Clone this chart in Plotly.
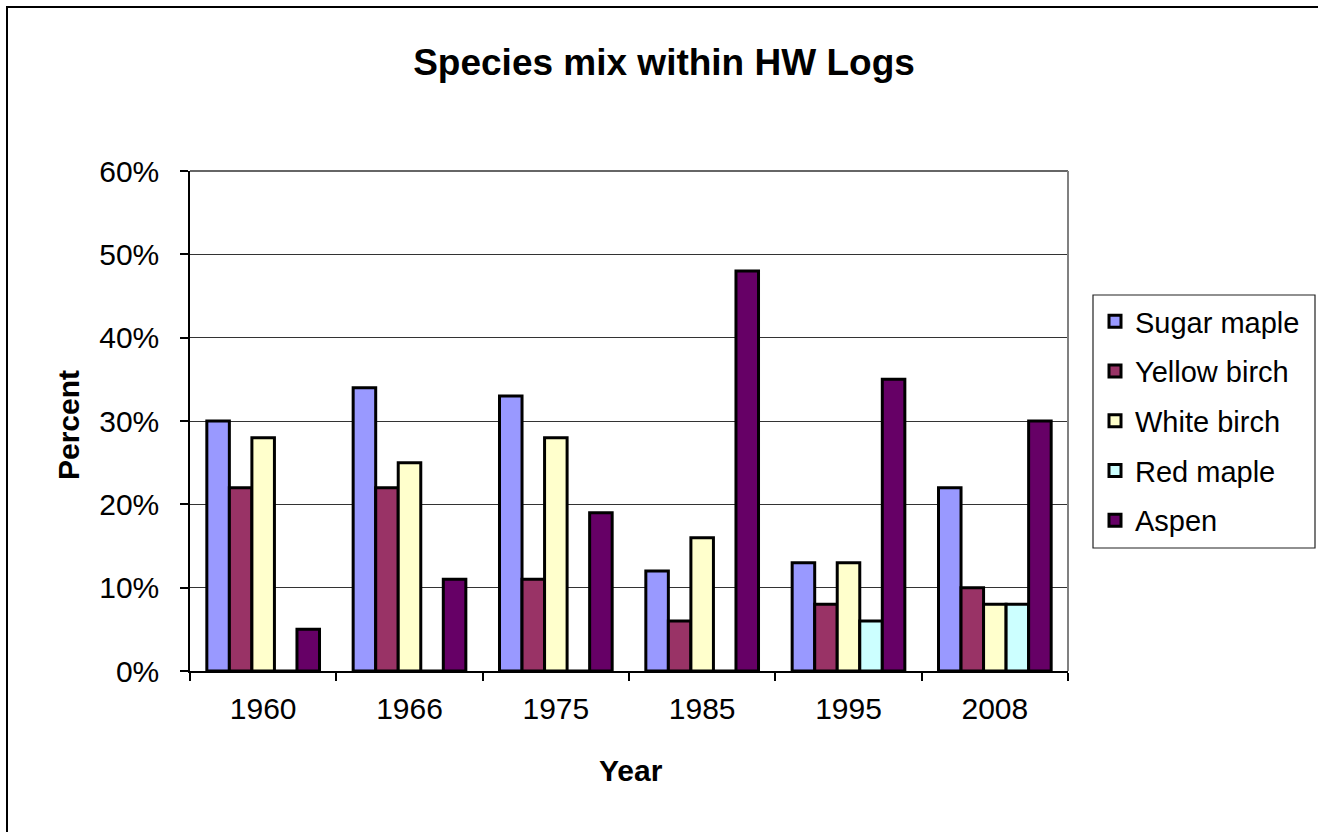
import plotly.graph_objects as go

years = ["1960", "1966", "1975", "1985", "1995", "2008"]
sugar_maple = [0.30, 0.34, 0.33, 0.12, 0.13, 0.22]
yellow_birch = [0.22, 0.22, 0.11, 0.06, 0.08, 0.10]
white_birch = [0.28, 0.25, 0.28, 0.16, 0.13, 0.08]
red_maple = [0.0, 0.0, 0.0, 0.0, 0.06, 0.08]
aspen = [0.05, 0.11, 0.19, 0.48, 0.35, 0.30]

series_names = ["Sugar maple", "Yellow birch", "White birch", "Red maple", "Aspen"]
series_values = [sugar_maple, yellow_birch, white_birch, red_maple, aspen]
colors = ["#9999FF", "#993366", "#FFFFCC", "#CCFFFF", "#660066"]

FONT = "Liberation Sans, Arial, sans-serif"

fig = go.Figure()
for i, (name, vals, col) in enumerate(zip(series_names, series_values, colors)):
    fig.add_trace(go.Bar(
        name=name, x=years, y=vals,
        marker=dict(color=col, line=dict(color="black", width=3)),
        legendgroup=f"g{i}",
    ))

L, R, T, B = 190, 1068, 171, 671
W, H = 1318, 832
pw, ph = R - L, B - T

def px_x(p):
    return (p - L) / pw

def px_y(p):
    return (B - p) / ph

fig.update_layout(
    width=W, height=H,
    margin=dict(l=L, r=W - R, t=T, b=H - B, autoexpand=False),
    paper_bgcolor="white", plot_bgcolor="white",
    font=dict(family=FONT, color="black", size=29),
    barmode="group", bargap=0.23, bargroupgap=0,
    title=dict(text="<b>Species mix within HW Logs</b>", font=dict(size=37, family=FONT, color="black"),
               x=664 / W, xanchor="center", y=1 - 62 / H, yanchor="middle"),
    showlegend=True,
    legend=dict(
        x=px_x(1095), xanchor="left", y=px_y(296), yanchor="top",
        bgcolor="rgba(0,0,0,0)", borderwidth=0,
        font=dict(size=29, family=FONT, color="black"),
        tracegroupgap=9, traceorder="grouped",
    ),
    xaxis=dict(
        type="category", showline=True, linecolor="black", linewidth=1.5,
        ticks="outside", ticklen=8, tickcolor="black", tickwidth=1.5,
        tickson="boundaries", showgrid=False,
        tickfont=dict(size=30, family=FONT, color="black"),
        ticklabelstandoff=10,
    ),
    yaxis=dict(
        range=[0, 0.6], dtick=0.1, tickformat=".0%",
        showline=True, linecolor="black", linewidth=1.5,
        ticks="outside", ticklen=8, tickcolor="black", tickwidth=1.5,
        showgrid=True, gridcolor="#333", gridwidth=1,
        zeroline=False,
        tickfont=dict(size=30, family=FONT, color="black"),
        ticklabelstandoff=15,
    ),
    annotations=[
        dict(text="<b>Percent</b>", xref="paper", yref="paper", x=px_x(68), y=px_y(425),
             xanchor="center", yanchor="middle", textangle=-90, showarrow=False,
             font=dict(size=30, family=FONT, color="black")),
        dict(text="<b>Year</b>", xref="paper", yref="paper", x=px_x(631), y=px_y(770),
             xanchor="center", yanchor="middle", showarrow=False,
             font=dict(size=30, family=FONT, color="black")),
    ],
    shapes=[
        # plot area top border
        dict(type="line", xref="paper", yref="paper", x0=0, x1=1, y0=1, y1=1,
             line=dict(color="#333", width=1.5)),
        # plot area right border (gray)
        dict(type="line", xref="paper", yref="paper", x0=1, x1=1, y0=0, y1=1,
             line=dict(color="#808080", width=2)),
        # legend box
        dict(type="rect", xref="paper", yref="paper", x0=px_x(1093), x1=px_x(1315),
             y0=px_y(548), y1=px_y(295), line=dict(color="#222", width=1.2),
             fillcolor="rgba(0,0,0,0)"),
        # outer chart border
        dict(type="line", xref="paper", yref="paper", x0=px_x(7), x1=px_x(7), y0=px_y(6), y1=px_y(840),
             line=dict(color="black", width=2)),
        dict(type="line", xref="paper", yref="paper", x0=px_x(6), x1=px_x(1330), y0=px_y(7), y1=px_y(7),
             line=dict(color="black", width=2)),
    ],
)

fig.write_html("out.html")
